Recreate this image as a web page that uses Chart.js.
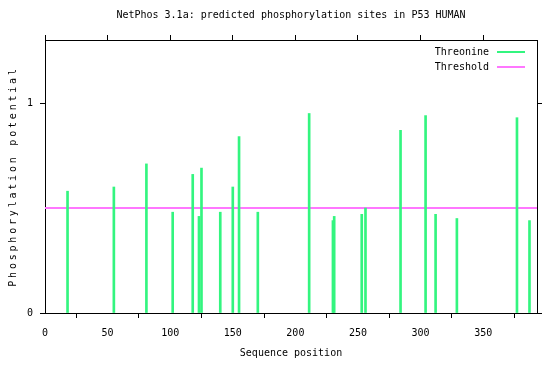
<!DOCTYPE html>
<html>
<head>
<meta charset="utf-8">
<script src="https://cdn.jsdelivr.net/npm/chart.js@4.4.1/dist/chart.umd.min.js"></script>
<style>
  html, body { margin: 0; padding: 0; background: #fff; }
  #wrap { width: 550px; height: 365px; }
</style>
</head>
<body>
<div id="wrap"><canvas id="myChart"></canvas></div>
<script>
// threonine sites in P53 and their NetPhos score
var positions = [18, 55, 81, 102, 118, 123, 125, 140, 150, 155, 170, 211, 230, 231, 253, 256, 284, 304, 312, 329, 377, 387];
var potentials = [0.58, 0.60, 0.71, 0.48, 0.66, 0.46, 0.69, 0.48, 0.60, 0.84, 0.48, 0.95, 0.44, 0.46, 0.47, 0.50, 0.87, 0.94, 0.47, 0.45, 0.93, 0.44];
var threshold = 0.5;
var seqLength = 393;
var xTicks = [0, 50, 100, 150, 200, 250, 300, 350];
var yTicks = [0, 1];

var green = '#33f57f';
var magenta = '#ff77ff';
var mono = "'DejaVu Sans Mono', monospace";

var sites = positions.map(function (p, i) { return { x: p, y: potentials[i] }; });

function setTicks(list) {
  return function (scale) {
    scale.ticks = list.map(function (v) { return { value: v }; });
  };
}

// gnuplot style key, top right inside the plot
var keyPlugin = {
  id: 'key',
  afterDraw: function (chart) {
    var ctx = chart.ctx, area = chart.chartArea;
    ctx.save();
    ctx.font = '10px ' + mono;
    ctx.textAlign = 'right';
    ctx.textBaseline = 'middle';
    chart.data.datasets.forEach(function (ds, i) {
      var y = area.top + 12 + i * 15;
      ctx.fillStyle = '#000';
      ctx.fillText(ds.label, area.right - 48, y);
      ctx.strokeStyle = ds.borderColor;
      ctx.lineWidth = 2;
      ctx.beginPath();
      ctx.moveTo(area.right - 40, y);
      ctx.lineTo(area.right - 12, y);
      ctx.stroke();
    });
    ctx.restore();
  }
};

// spaced out letters on the y title like the original
var spacedTitle = {
  id: 'spacedTitle',
  afterLayout: function (chart) {
    var s = chart.scales.y;
    if (s._spaced) return;
    var orig = s.drawTitle;
    s.drawTitle = function () {
      this.ctx.save();
      this.ctx.letterSpacing = '2.8px';
      orig.apply(this, arguments);
      this.ctx.restore();
    };
    s._spaced = true;
  }
};

var axisGrid = { drawOnChartArea: false, drawTicks: true, tickLength: 5, color: '#000' };
var axisBorder = { display: true, color: '#000', width: 1 };
var tickFont = { family: mono, size: 10 };

new Chart(document.getElementById('myChart'), {
  type: 'line',
  data: {
    datasets: [
      {
        type: 'bar',
        label: 'Threonine',
        data: sites,
        backgroundColor: green,
        borderColor: green,
        borderWidth: 0,
        barThickness: 2
      },
      {
        type: 'line',
        label: 'Threshold',
        data: [{ x: 0, y: threshold }, { x: seqLength, y: threshold }],
        borderColor: magenta,
        backgroundColor: magenta,
        borderWidth: 2,
        pointRadius: 0,
        fill: false
      }
    ]
  },
  options: {
    responsive: true,
    maintainAspectRatio: false,
    animation: false,
    layout: { padding: 0 },
    plugins: {
      legend: { display: false },
      tooltip: { enabled: false },
      title: {
        display: true,
        text: 'NetPhos 3.1a: predicted phosphorylation sites in P53 HUMAN',
        fullSize: false,
        color: '#000',
        font: { family: mono, size: 10, weight: 'normal' },
        padding: { top: 9, bottom: 0 }
      }
    },
    scales: {
      x: {
        type: 'linear',
        position: 'bottom',
        min: 0,
        max: seqLength,
        offset: false,
        grid: axisGrid,
        border: axisBorder,
        afterBuildTicks: setTicks(xTicks),
        afterFit: function (s) { s.height = 52; },
        ticks: { color: '#000', font: tickFont, padding: 9, maxRotation: 0 },
        title: {
          display: true,
          text: 'Sequence position',
          color: '#000',
          font: tickFont,
          padding: { top: 0, bottom: 6 }
        }
      },
      x2: {
        type: 'linear',
        position: 'top',
        min: 0,
        max: seqLength,
        offset: false,
        grid: axisGrid,
        border: axisBorder,
        afterBuildTicks: setTicks(xTicks),
        afterFit: function (s) { s.height = 19; },
        ticks: { display: false }
      },
      y: {
        position: 'left',
        min: 0,
        max: 1.3,
        grid: axisGrid,
        border: axisBorder,
        afterBuildTicks: setTicks(yTicks),
        afterFit: function (s) { s.width = 45; },
        ticks: { color: '#000', font: tickFont, padding: 7 },
        title: {
          display: true,
          text: 'Phosphorylation potential',
          color: '#000',
          font: tickFont,
          padding: { top: 7, bottom: 0 }
        }
      },
      y2: {
        position: 'right',
        min: 0,
        max: 1.3,
        grid: axisGrid,
        border: axisBorder,
        afterBuildTicks: setTicks(yTicks),
        afterFit: function (s) { s.width = 13; },
        ticks: { display: false }
      }
    }
  },
  plugins: [keyPlugin, spacedTitle]
});
</script>
</body>
</html>
